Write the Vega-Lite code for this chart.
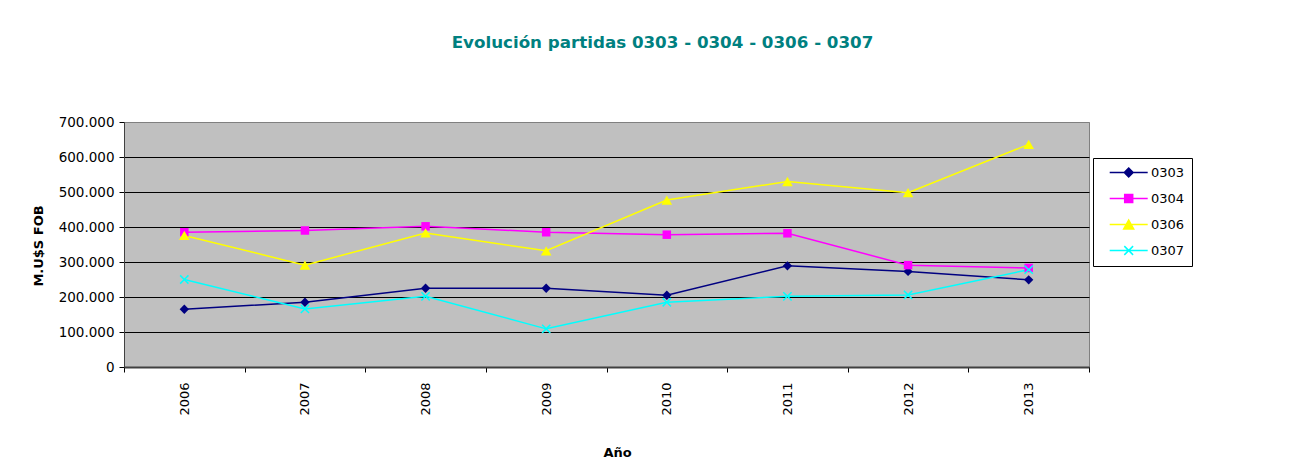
{
  "$schema": "https://vega.github.io/schema/vega-lite/v6.json",
  "width": 965,
  "height": 245,
  "autosize": {"type": "none"},
  "padding": {"left": 124, "top": 122, "right": 216, "bottom": 108},
  "background": "white",
  "title": {
    "text": "Evolución partidas 0303 - 0304 - 0306 - 0307",
    "color": "#008080",
    "font": "DejaVu Sans",
    "fontSize": 16.7,
    "fontWeight": "bold",
    "anchor": "middle",
    "frame": "group",
    "dx": 56,
    "baseline": "alphabetic",
    "offset": 50
  },
  "data": {
    "values": [
      {"year": 2006, "serie": "0303", "value": 165000},
      {"year": 2007, "serie": "0303", "value": 185000},
      {"year": 2008, "serie": "0303", "value": 225000},
      {"year": 2009, "serie": "0303", "value": 225000},
      {"year": 2010, "serie": "0303", "value": 205000},
      {"year": 2011, "serie": "0303", "value": 289000},
      {"year": 2012, "serie": "0303", "value": 273000},
      {"year": 2013, "serie": "0303", "value": 249000},
      {"year": 2006, "serie": "0304", "value": 385000},
      {"year": 2007, "serie": "0304", "value": 390000},
      {"year": 2008, "serie": "0304", "value": 402000},
      {"year": 2009, "serie": "0304", "value": 385000},
      {"year": 2010, "serie": "0304", "value": 378000},
      {"year": 2011, "serie": "0304", "value": 382000},
      {"year": 2012, "serie": "0304", "value": 291000},
      {"year": 2013, "serie": "0304", "value": 283000},
      {"year": 2006, "serie": "0306", "value": 376000},
      {"year": 2007, "serie": "0306", "value": 291000},
      {"year": 2008, "serie": "0306", "value": 383000},
      {"year": 2009, "serie": "0306", "value": 332000},
      {"year": 2010, "serie": "0306", "value": 477000},
      {"year": 2011, "serie": "0306", "value": 530000},
      {"year": 2012, "serie": "0306", "value": 498000},
      {"year": 2013, "serie": "0306", "value": 636000},
      {"year": 2006, "serie": "0307", "value": 250000},
      {"year": 2007, "serie": "0307", "value": 166000},
      {"year": 2008, "serie": "0307", "value": 202000},
      {"year": 2009, "serie": "0307", "value": 109000},
      {"year": 2010, "serie": "0307", "value": 185000},
      {"year": 2011, "serie": "0307", "value": 202000},
      {"year": 2012, "serie": "0307", "value": 206000},
      {"year": 2013, "serie": "0307", "value": 278000}
    ]
  },
  "encoding": {
    "x": {
      "field": "year",
      "type": "ordinal",
      "scale": {"type": "band", "paddingInner": 0, "paddingOuter": 0},
      "axis": {
        "title": "Año",
        "labelAngle": 270,
        "labelPadding": 10,
        "tickBand": "extent",
        "tickSize": 5,
        "tickColor": "black",
        "domainColor": "#404040",
        "domainWidth": 2,
        "grid": false,
        "titleX": 493,
        "titleY": 85.5,
        "titleBaseline": "middle",
        "titleAlign": "center"
      }
    },
    "y": {
      "field": "value",
      "type": "quantitative",
      "scale": {"domain": [0, 700000], "nice": false},
      "axis": {
        "title": "M.U$S FOB",
        "values": [0, 100000, 200000, 300000, 400000, 500000, 600000, 700000],
        "format": ",d",
        "grid": true,
        "gridColor": {"condition": {"test": "datum.value === 700000", "value": "#808080"}, "value": "black"},
        "gridWidth": 1,
        "gridOpacity": 1,
        "tickSize": 5,
        "tickColor": "black",
        "labelPadding": 5,
        "labelFontSize": 13.5,
        "domainColor": "#404040",
        "titleAngle": 270,
        "titleX": -86,
        "titleY": 123.5,
        "titleBaseline": "middle",
        "titleAlign": "center"
      }
    }
  },
  "layer": [
    {
      "mark": {"type": "line", "strokeWidth": 1.5},
      "encoding": {
        "stroke": {
          "field": "serie",
          "type": "nominal",
          "scale": {"domain": ["0303", "0304", "0306", "0307"], "range": ["#000080", "#FF00FF", "#FFFF00", "#00FFFF"]},
          "legend": {
            "orient": "none",
            "legendX": 969,
            "legendY": 36,
            "title": null,
            "padding": 8,
            "rowPadding": 11,
            "symbolOffset": 21.2,
            "labelOffset": 15.7,
            "strokeColor": "black",
            "fillColor": "white",
            "cornerRadius": 0,
            "labelFont": "DejaVu Sans",
            "labelFontSize": 13,
            "labelColor": "black",
            "encoding": {
              "symbols": {
                "shape": {"value": {"expr": "datum.value == '0303' ? 'M-4.75,0H4.75M0,-1.1L1.1,0L0,1.1L-1.1,0Z' : datum.value == '0304' ? 'M-4.75,0H4.75M-1,-1H1V1H-1Z' : datum.value == '0306' ? 'M-4.75,0H4.75M0,-1.1L1.25,1.1H-1.25Z' : 'M-4.75,0H4.75M-1.1,-1.1L1.1,1.1M-1.1,1.1L1.1,-1.1'"}},
                "fill": {"value": {"expr": "datum.value == '0303' ? '#000080' : datum.value == '0304' ? '#FF00FF' : datum.value == '0306' ? '#FFFF00' : '#00FFFF'"}},
                "stroke": {"value": {"expr": "datum.value == '0303' ? '#000080' : datum.value == '0304' ? '#FF00FF' : datum.value == '0306' ? '#FFFF00' : '#00FFFF'"}},
                "size": {"value": 64},
                "strokeWidth": {"value": 1.5},
                "opacity": {"value": 1}
              }
            }
          }
        }
      }
    },
    {
      "transform": [{"filter": "datum.serie == '0303'"}],
      "mark": {"type": "point", "filled": true, "opacity": 1, "size": 72, "color": "#000080", "shape": "M0,-1.1L1.1,0L0,1.1L-1.1,0Z"}
    },
    {
      "transform": [{"filter": "datum.serie == '0304'"}],
      "mark": {"type": "point", "filled": true, "opacity": 1, "size": 72, "color": "#FF00FF", "shape": "M-1,-1H1V1H-1Z"}
    },
    {
      "transform": [{"filter": "datum.serie == '0306'"}],
      "mark": {"type": "point", "filled": true, "opacity": 1, "size": 72, "color": "#FFFF00", "shape": "M0,-1.1L1.25,1.1H-1.25Z"}
    },
    {
      "transform": [{"filter": "datum.serie == '0307'"}],
      "mark": {"type": "point", "filled": true, "opacity": 1, "size": 72, "color": "#00FFFF", "shape": "M0,-0.25L0.85,-1.1L1.1,-0.85L0.25,0L1.1,0.85L0.85,1.1L0,0.25L-0.85,1.1L-1.1,0.85L-0.25,0L-1.1,-0.85L-0.85,-1.1Z"}
    }
  ],
  "config": {
    "locale": {"number": {"decimal": ",", "thousands": ".", "grouping": [3], "currency": ["$", ""]}},
    "view": {"fill": "#C0C0C0", "stroke": "#808080", "strokeWidth": 1},
    "axis": {
      "labelFont": "DejaVu Sans",
      "labelFontSize": 13,
      "labelColor": "black",
      "titleFont": "DejaVu Sans",
      "titleFontSize": 13,
      "titleFontWeight": "bold",
      "titleColor": "black"
    }
  }
}
